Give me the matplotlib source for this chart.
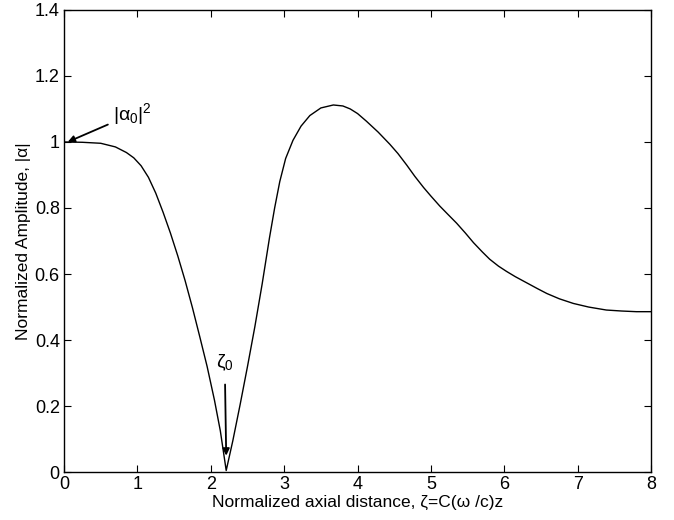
import matplotlib
matplotlib.use("Agg")
import matplotlib.pyplot as plt

plt.rcParams['font.family'] = ['Liberation Sans', 'DejaVu Sans']
plt.rcParams['mathtext.fontset'] = 'custom'
plt.rcParams['mathtext.rm'] = 'Liberation Sans'
plt.rcParams['mathtext.it'] = 'Liberation Sans'
plt.rcParams['mathtext.bf'] = 'Liberation Sans:bold'

# Read-off data points
zeta = [0.0, 0.25, 0.5, 0.7, 0.85, 0.95, 1.05, 1.15, 1.25, 1.35, 1.45, 1.55, 1.65,
        1.75, 1.85, 1.95, 2.05, 2.13, 2.21,
        2.3, 2.4, 2.5, 2.6, 2.7, 2.8, 2.87, 2.94, 3.02, 3.12, 3.23, 3.35, 3.5, 3.67,
        3.8, 3.9, 4.0, 4.12, 4.28, 4.44, 4.55, 4.67, 4.78, 4.9, 5.0, 5.12, 5.23,
        5.35, 5.47, 5.58, 5.7, 5.8, 5.92, 6.03, 6.15, 6.3, 6.45, 6.58, 6.75, 6.94,
        7.15, 7.39, 7.6, 7.8, 8.0]
amp = [1.0, 0.999, 0.996, 0.985, 0.968, 0.952, 0.928, 0.893, 0.845, 0.787, 0.724,
       0.655, 0.58, 0.498, 0.41, 0.32, 0.218, 0.125, 0.005,
       0.095, 0.205, 0.32, 0.44, 0.57, 0.71, 0.80, 0.88, 0.95, 1.005, 1.048, 1.08,
       1.103, 1.112, 1.109, 1.10, 1.086, 1.063, 1.030, 0.993, 0.965, 0.930, 0.896,
       0.862, 0.836, 0.806, 0.781, 0.754, 0.724, 0.695, 0.667, 0.645, 0.624, 0.608,
       0.592, 0.574, 0.556, 0.541, 0.525, 0.511, 0.50, 0.491, 0.488, 0.486, 0.486]

xticks = [0, 1, 2, 3, 4, 5, 6, 7, 8]
yticks = [0, 0.2, 0.4, 0.6, 0.8, 1.0, 1.2, 1.4]
ytick_labels = ['0', '0.2', '0.4', '0.6', '0.8', '1', '1.2', '1.4']

fig = plt.figure(figsize=(6.74, 5.2), dpi=100)
ax = fig.add_axes([0.095, 0.092, 0.871, 0.889])
ax.plot(zeta, amp, color='black', linewidth=1.0)

ax.set_xlim(0, 8)
ax.set_ylim(0, 1.4)
ax.set_xticks(xticks)
ax.set_xticklabels([str(t) for t in xticks])
ax.set_yticks(yticks)
ax.set_yticklabels(ytick_labels)
ax.tick_params(direction='in', top=True, right=True, length=5, width=0.8,
               labelsize=13, pad=3)
for s in ax.spines.values():
    s.set_linewidth(1.0)

ax.set_xlabel('Normalized axial distance, ζ=C(ω /c)z', fontsize=12.5, labelpad=1)
ax.set_ylabel('Normalized Amplitude, |α|', fontsize=12.5, labelpad=3)

ax.annotate(r'$\mathregular{|\alpha_0|^2}$', xy=(0.05, 1.0), xytext=(0.67, 1.085),
            fontsize=14, ha='left', va='center',
            arrowprops=dict(arrowstyle='-|>', color='black', lw=1.3,
                            mutation_scale=10, shrinkA=2, shrinkB=0))
ax.annotate(r'$\mathregular{\zeta_0}$', xy=(2.21, 0.05), xytext=(2.19, 0.33),
            fontsize=14, ha='center', va='center',
            arrowprops=dict(arrowstyle='-|>', color='black', lw=1.3,
                            mutation_scale=10, shrinkA=6, shrinkB=0))

fig.savefig('out.png', dpi=100)
